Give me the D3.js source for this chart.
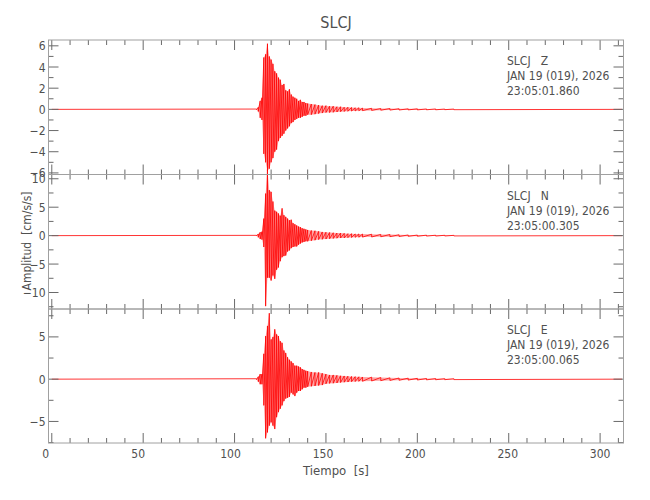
<!DOCTYPE html>
<html>
<head>
<meta charset="utf-8">
<script src="https://cdn.jsdelivr.net/npm/d3@7"></script>
<style>
  body { margin: 0; background: #fff; }
  svg text { font-family: "DejaVu Sans Condensed", "Liberation Sans", sans-serif; fill: #505050; }
</style>
</head>
<body>
<svg id="chart" width="650" height="500"></svg>
<script>
// components, one panel each
const comps = ["Z", "N", "E"];
const startTimes = ["23:05:01.860", "23:05:00.305", "23:05:00.065"];
const yDomains = [[-6.15, 6.55], [-12.9, 10.75], [-7.55, 8.3]];
const yMajor = [[-6, -4, -2, 0, 2, 4, 6], [-10, -5, 0, 5, 10], [-5, 0, 5]];
const yMinorStep = [1, 2.5, 2.5];
const xTicks = [0, 50, 100, 150, 200, 250, 300];

// envelope of each trace (s, peak up, peak down)
const T = [112,113,114,115,116,117,118,119,120,121,122,123,124,125,126,127,128,129,130,131,132,133,134,135,136,137,138,139,140,
  142,144,146,148,150,152,154,156,158,160,162,164,166,168,170,
  175,180,185,190,195,200,205,210,215,220];
const hiZ = [0.03,0.2,0.8,1.1,4.9,5.2,6.2,5.0,4.7,4.3,3.6,3.4,3.0,2.8,2.3,2.4,1.8,1.7,1.9,1.4,1.2,1.1,1.0,0.8,0.9,0.7,0.7,0.6,0.55,
  0.5,0.45,0.4,0.35,0.35,0.3,0.3,0.25,0.25,0.2,0.2,0.18,0.15,0.15,0.12,
  0.1,0.08,0.08,0.06,0.05,0.05,0.04,0.04,0.03,0.03];
const loZ = [-0.03,-0.2,-0.8,-1.0,-4.2,-5.0,-5.8,-5.6,-5.0,-4.6,-4.0,-3.8,-3.0,-2.7,-2.5,-2.3,-2.0,-1.8,-1.6,-1.3,-1.2,-1.0,-0.9,-0.8,-0.8,-0.7,-0.6,-0.6,-0.5,
  -0.5,-0.45,-0.4,-0.35,-0.3,-0.3,-0.28,-0.25,-0.22,-0.2,-0.18,-0.16,-0.15,-0.13,-0.12,
  -0.1,-0.08,-0.07,-0.06,-0.05,-0.05,-0.04,-0.04,-0.03,-0.03];
const hiN = [0.05,0.3,0.6,0.7,3.0,7.4,11.6,8.0,7.7,6.0,4.4,4.2,3.9,3.5,4.8,3.6,3.3,3.0,2.7,2.8,2.2,2.0,1.8,1.6,1.5,1.3,1.2,1.1,1.0,
  0.9,0.85,0.75,0.65,0.6,0.55,0.5,0.45,0.45,0.4,0.35,0.35,0.3,0.3,0.28,
  0.25,0.22,0.2,0.15,0.12,0.1,0.08,0.07,0.06,0.05];
const loN = [-0.05,-0.3,-0.6,-0.7,-2.0,-12.4,-7.4,-7.4,-7.9,-7.0,-7.6,-6.0,-5.6,-4.5,-3.8,-3.6,-3.5,-2.8,-2.6,-2.2,-2.0,-1.9,-1.9,-1.6,-1.4,-1.2,-1.1,-1.0,-1.0,
  -0.9,-0.8,-0.7,-0.65,-0.6,-0.55,-0.5,-0.45,-0.42,-0.4,-0.35,-0.33,-0.3,-0.28,-0.26,
  -0.24,-0.2,-0.18,-0.15,-0.12,-0.1,-0.08,-0.07,-0.06,-0.05];
const hiE = [0.05,0.3,0.6,0.6,3.0,5.1,6.3,7.8,4.7,5.0,5.9,5.3,5.1,4.5,4.3,3.4,3.1,2.6,2.3,2.1,1.9,1.6,1.6,1.5,1.4,1.2,1.1,1.0,0.95,
  0.85,0.8,0.8,0.7,0.6,0.5,0.5,0.45,0.4,0.38,0.35,0.32,0.3,0.28,0.26,
  0.24,0.2,0.16,0.14,0.12,0.1,0.08,0.07,0.06,0.05];
const loE = [-0.05,-0.3,-0.6,-0.6,-3.1,-7.0,-6.3,-5.5,-5.1,-5.5,-5.9,-4.5,-3.9,-3.5,-3.1,-2.6,-2.3,-2.2,-2.1,-1.6,-1.8,-2.0,-1.6,-1.4,-1.4,-1.2,-1.0,-1.0,-0.9,
  -0.85,-0.8,-0.75,-0.7,-0.55,-0.5,-0.48,-0.45,-0.4,-0.36,-0.34,-0.3,-0.28,-0.26,-0.25,
  -0.22,-0.18,-0.15,-0.13,-0.11,-0.1,-0.08,-0.07,-0.06,-0.05];
const traceHi = [hiZ, hiN, hiE];
const traceLo = [loZ, loN, loE];
const tStart = 0, tEnd = 312;

const svg = d3.select("#chart");
const left = 48.5, right = 623.5;
const panelTop = [40, 174.5, 309], panelBot = [174.5, 309, 443];
const frameCol = "#a0a0a0", tickCol = "#6a6a6a";

const x = d3.scaleLinear().domain([-1.8, 312.8]).range([left, right]);

function buildTrace(hi, lo){
    var pts = [[tStart, 0]];
    T.forEach(function(t, i){
        pts.push([t, hi[i]]);
        pts.push([t, lo[i]]);
    });
    pts.push([tEnd, 0]);
    return pts;
}

comps.forEach(function(c, k){
    var top = panelTop[k], bot = panelBot[k];
    var y = d3.scaleLinear().domain(yDomains[k]).range([bot, top]);
    var g = svg.append("g");
    var hi = traceHi[k], lo = traceLo[k];

    // dense part of the trace shows as a pale band between the peaks
    var band = d3.area().x(d => x(d)).y0((d, i) => y(lo[i])).y1((d, i) => y(hi[i]));
    g.append("path").attr("d", band(T)).attr("fill", "#ff0000").attr("fill-opacity", 0.35);

    // trace (not clipped, spikes can leave the box like in the original)
    var line = d3.line().x(d => x(d[0])).y(d => y(d[1]));
    g.append("path")
        .attr("d", line(buildTrace(hi, lo)))
        .attr("fill", "none")
        .attr("stroke", "#ff0000")
        .attr("stroke-width", 0.8);

    // ticks, inward on all four sides
    var yMinor = d3.range(Math.ceil(yDomains[k][0] / yMinorStep[k]) * yMinorStep[k], yDomains[k][1], yMinorStep[k]);
    var xMinor = d3.range(0, 311, 10);
    var ticks = g.append("g").attr("stroke", tickCol).attr("stroke-width", 1);
    xMinor.forEach(function(v){
        var len = (v % 50 === 0) ? 10 : 5;
        ticks.append("line").attr("x1", x(v)).attr("x2", x(v)).attr("y1", top).attr("y2", top + len);
        ticks.append("line").attr("x1", x(v)).attr("x2", x(v)).attr("y1", bot).attr("y2", bot - len);
    });
    yMinor.forEach(function(v){
        var major = yMajor[k].indexOf(Math.round(v * 100) / 100) >= 0;
        var len = major ? 10 : 5;
        ticks.append("line").attr("x1", left).attr("x2", left + len).attr("y1", y(v)).attr("y2", y(v));
        ticks.append("line").attr("x1", right).attr("x2", right - len).attr("y1", y(v)).attr("y2", y(v));
    });

    // y tick labels
    g.selectAll("text.yl").data(yMajor[k]).enter().append("text")
        .attr("x", left - 3).attr("y", d => y(d) + 4.5)
        .attr("text-anchor", "end").attr("font-size", 12)
        .text(d => d < 0 ? "\u2212" + Math.abs(d) : d);

    // frame
    g.append("rect").attr("x", left).attr("y", top).attr("width", right - left).attr("height", bot - top)
        .attr("fill", "none").attr("stroke", frameCol).attr("stroke-width", 1);

    // station block
    var info = ["SLCJ   " + c, "JAN 19 (019), 2026", startTimes[k]];
    info.forEach(function(s, i){
        g.append("text").attr("x", 507).attr("y", top + 25 + i * 15)
            .attr("font-size", 12).style("white-space", "pre").text(s);
    });
});

// x tick labels on the lowest panel
svg.selectAll("text.xl").data(xTicks).enter().append("text")
    .attr("x", d => x(d) - 6 + d * 0.02).attr("y", 458)
    .attr("text-anchor", "middle").attr("font-size", 12)
    .text(d => d);

svg.append("text").attr("x", 336).attr("y", 475).attr("text-anchor", "middle")
    .attr("font-size", 13).style("white-space", "pre").text("Tiempo  [s]");

svg.append("text").attr("transform", "translate(31,241) rotate(-90)").attr("text-anchor", "middle")
    .attr("font-size", 12).style("white-space", "pre").text("Amplitud  [cm/s/s]");

svg.append("text").attr("x", 336).attr("y", 28).attr("text-anchor", "middle")
    .attr("font-size", 16).text("SLCJ");
</script>
</body>
</html>
